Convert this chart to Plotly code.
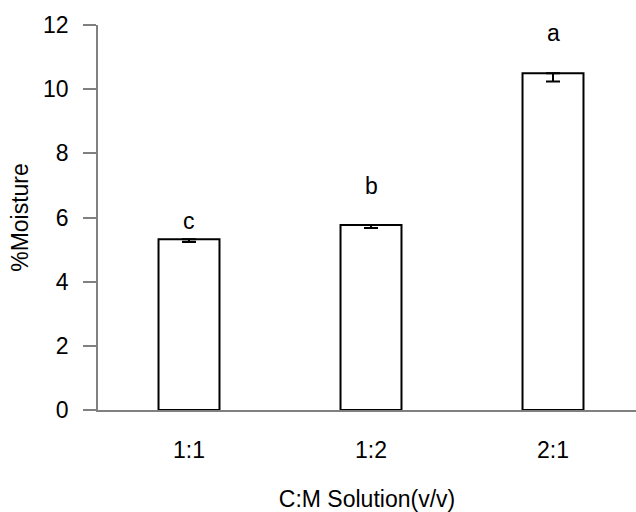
import plotly.graph_objects as go

categories = ["1:1", "1:2", "2:1"]
moisture = [5.32, 5.77, 10.5]
err_minus = [0.08, 0.1, 0.26]
letters = ["c", "b", "a"]
letter_y = [5.89, 6.98, 11.75]
x_title = "C:M Solution(v/v)"
y_title = "%Moisture"
y_ticks = [0, 2, 4, 6, 8, 10, 12]

xs = list(range(len(categories)))
font = "Liberation Sans, Arial, sans-serif"
fs = 23

fig = go.Figure()
fig.add_trace(go.Bar(
    x=xs, y=moisture, width=0.335,
    marker=dict(color="white", line=dict(color="black", width=2)),
    error_y=dict(type="data", symmetric=False, array=[0] * len(moisture),
                 arrayminus=err_minus, color="black", thickness=2, width=7),
    showlegend=False,
))
for x, y, t in zip(xs, letter_y, letters):
    fig.add_annotation(x=x, y=y, text=t, showarrow=False,
                       font=dict(family=font, size=fs, color="black"))

fig.update_layout(
    width=636, height=512,
    margin=dict(l=98, r=0, t=25, b=102),
    paper_bgcolor="white", plot_bgcolor="white",
    font=dict(family=font, size=fs, color="black"),
)
fig.update_xaxes(
    range=[-0.5, 2.456], tickmode="array", tickvals=xs, ticktext=categories,
    showline=True, linecolor="#808080", linewidth=1.5, ticks="", showgrid=False,
    zeroline=False, ticklabelstandoff=19,
    title=dict(text=x_title, font=dict(size=fs), standoff=31),
)
fig.update_yaxes(
    range=[0, 12], tickvals=y_ticks, showline=True, linecolor="#808080",
    linewidth=1.5, ticks="outside", ticklen=13, tickcolor="#808080", tickwidth=1.5,
    showgrid=False, zeroline=False, ticklabelstandoff=10,
    title=dict(text=y_title, font=dict(size=fs), standoff=8),
)
fig.write_html("out.html")
